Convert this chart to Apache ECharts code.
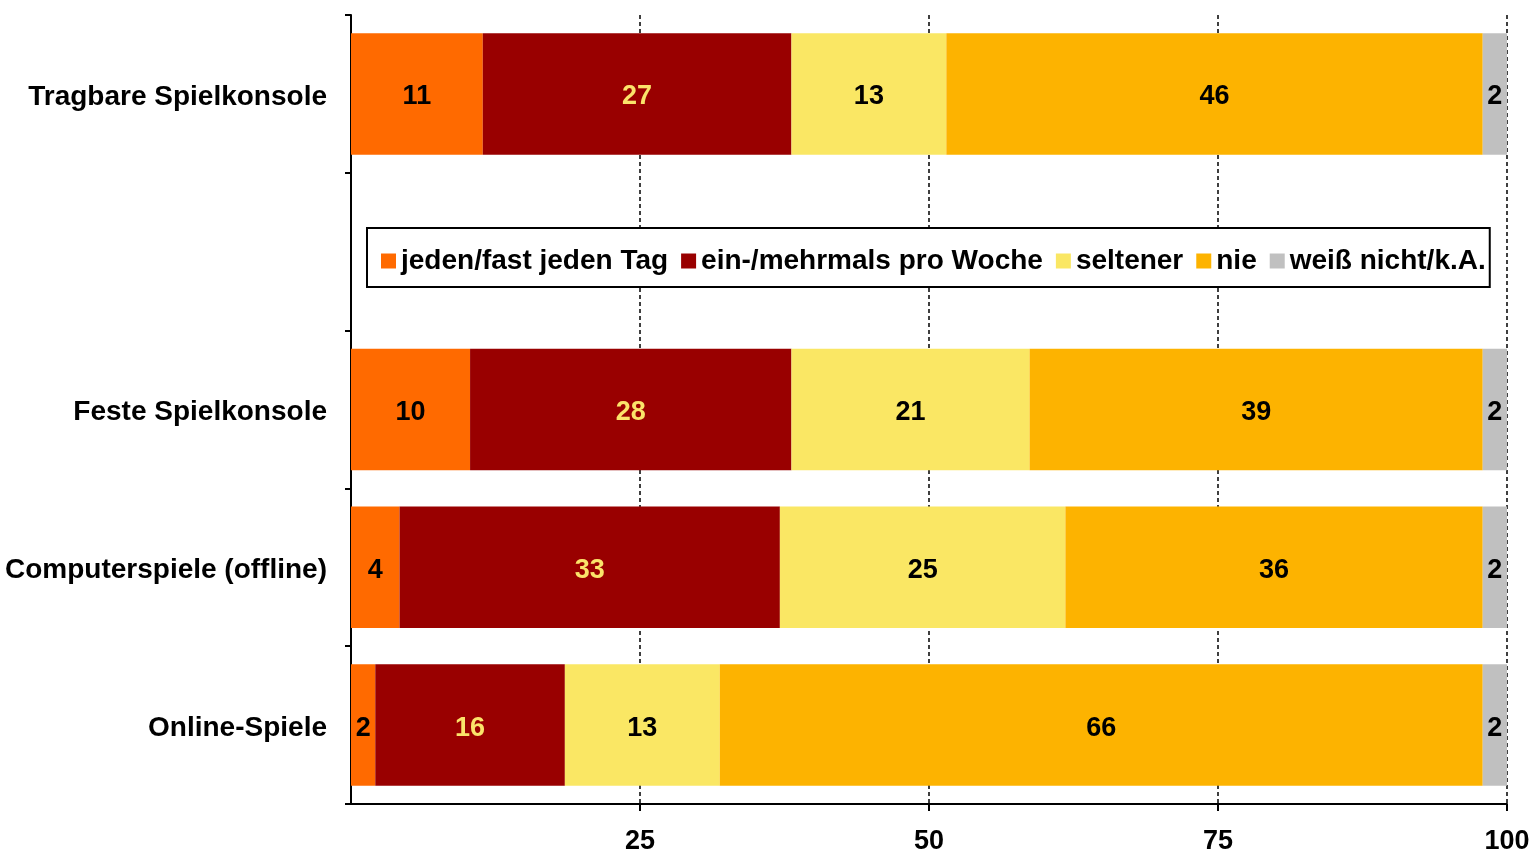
<!DOCTYPE html>
<html>
<head>
<meta charset="utf-8">
<script src="https://cdn.jsdelivr.net/npm/echarts@6/dist/echarts.min.js"></script>
<style>
html,body{margin:0;padding:0;background:#fff;}
#chart{width:1537px;height:858px;}
</style>
</head>
<body>
<div id="chart"></div>
<script>
const categories = ['Tragbare Spielkonsole', '', 'Feste Spielkonsole', 'Computerspiele (offline)', 'Online-Spiele'];
const seriesNames = ['jeden/fast jeden Tag', 'ein-/mehrmals pro Woche', 'seltener', 'nie', 'weiß nicht/k.A.'];
const jedenTag = [11.4, null, 10.3, 4.2, 2.1];
const proWoche = [26.7, null, 27.8, 32.9, 16.4];
const seltener = [13.4, null, 20.6, 24.7, 13.4];
const nie = [46.4, null, 39.2, 36.1, 66.0];
const weissNicht = [2.1, null, 2.1, 2.1, 2.1];
const xTicks = [0, 25, 50, 75, 100];

const colors = ['#FF6A00', '#990000', '#FAE764', '#FDB300', '#C0C0C0'];
const labelColors = ['#000', '#FBE36A', '#000', '#000', '#000'];
const values = [jedenTag, proWoche, seltener, nie, weissNicht];
const FONT = '"Liberation Sans", Arial, sans-serif';

const chart = echarts.init(document.getElementById('chart'));
chart.setOption({
  animation: false,
  backgroundColor: '#fff',
  textStyle: {fontFamily: FONT},
  grid: {left: 351, right: 30, top: 15, bottom: 54},
  legend: {
    left: 367, top: 228,
    backgroundColor: '#fff',
    borderColor: '#000', borderWidth: 2,
    padding: [19, 4, 12, 14],
    itemGap: 13, itemWidth: 15, itemHeight: 15,
    icon: 'rect',
    data: seriesNames,
    textStyle: {fontFamily: FONT, fontWeight: 'bold', fontSize: 28, color: '#000'}
  },
  xAxis: {
    type: 'value', min: xTicks[0], max: xTicks[xTicks.length - 1], interval: 25,
    axisLine: {show: true, lineStyle: {color: '#000', width: 2}},
    axisTick: {show: true, length: 7, lineStyle: {color: '#000', width: 2}},
    axisLabel: {showMinLabel: false, margin: 24, fontFamily: FONT, fontWeight: 'bold', fontSize: 27, color: '#000'},
    splitLine: {show: true, lineStyle: {color: '#000', width: 1.5, type: [4, 3]}}
  },
  yAxis: {
    type: 'category', inverse: true, data: categories,
    axisLine: {show: true, lineStyle: {color: '#000', width: 2}},
    axisTick: {show: true, length: 6, lineStyle: {color: '#000', width: 2}},
    axisLabel: {
      margin: 24, fontFamily: FONT, fontWeight: 'bold', fontSize: 28, color: '#000',
      formatter: v => v ? '{c|' + v + '}' : '',
      rich: {c: {fontFamily: FONT, fontWeight: 'bold', fontSize: 28, color: '#000', padding: [6, 0, 0, 0]}}
    }
  },
  series: seriesNames.map((name, i) => ({
    name: name, type: 'bar', stack: 'total',
    barCategoryGap: '23%',
    itemStyle: {color: colors[i]},
    label: {
      show: true, position: 'inside',
      offset: [0, 3],
      formatter: p => Math.round(p.value),
      fontFamily: FONT, fontWeight: 'bold', fontSize: 27, color: labelColors[i]
    },
    data: values[i]
  }))
});
</script>
</body>
</html>
